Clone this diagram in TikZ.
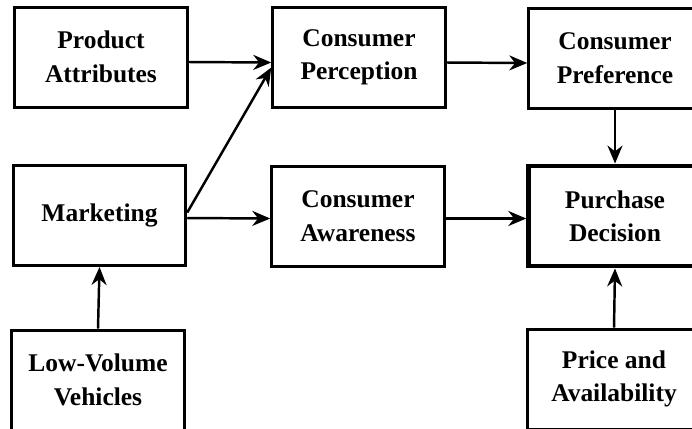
\documentclass[tikz,border=0pt]{standalone}
\usepackage{fontspec}
\setmainfont{Liberation Serif}
\usetikzlibrary{arrows.meta}

\begin{document}
\begin{tikzpicture}[every node/.style={draw=black,line width=1.7pt,minimum width=3.45cm,minimum height=2cm,align=center,font=\fontsize{14.5}{19}\selectfont\bfseries},
  link/.style={-{Stealth[length=3.6mm,width=3mm]},line width=1.4pt}]
\useasboundingbox (0,0) rectangle (13.84,-8.56);
\clip (0,0) rectangle (13.84,-8.56);
\node (attr) at (2.02,-1.14) {Product\\Attributes};
\node (perc) at (7.18,-1.15) {Consumer\\Perception};
\node (pref) at (12.3,-1.16) {Consumer\\Preference};
\node (mark) at (1.99,-4.31) {Marketing};
\node (aware) at (7.16,-4.32) {Consumer\\Awareness};
\node (dec) at (12.3,-4.32) [line width=2.8pt]{Purchase\\Decision};
\node (lowv) at (1.96,-7.6) {Low-Volume\\Vehicles};
\node (price) at (12.28,-7.58) {Price and\\Availability};
\draw[link] ([yshift=-0.1cm]attr.east) to ([yshift=-0.1cm]perc.west);
\draw[link] ([yshift=0.06cm]mark.east) to ([yshift=-0.2cm]perc.west);
\draw[link] ([yshift=-0.05cm]mark.east) to ([yshift=-0.05cm]aware.west);
\draw[link] ([yshift=-0.1cm]perc.east) to ([yshift=-0.1cm]pref.west);
\draw[link] ([yshift=-0.05cm]aware.east) to ([yshift=-0.05cm]dec.west);
\draw[link] (pref.south) to (dec.north);
\draw[link] (price.north) to (dec.south);
\draw[link] (lowv.north) to (mark.south);
\end{tikzpicture}
\end{document}
